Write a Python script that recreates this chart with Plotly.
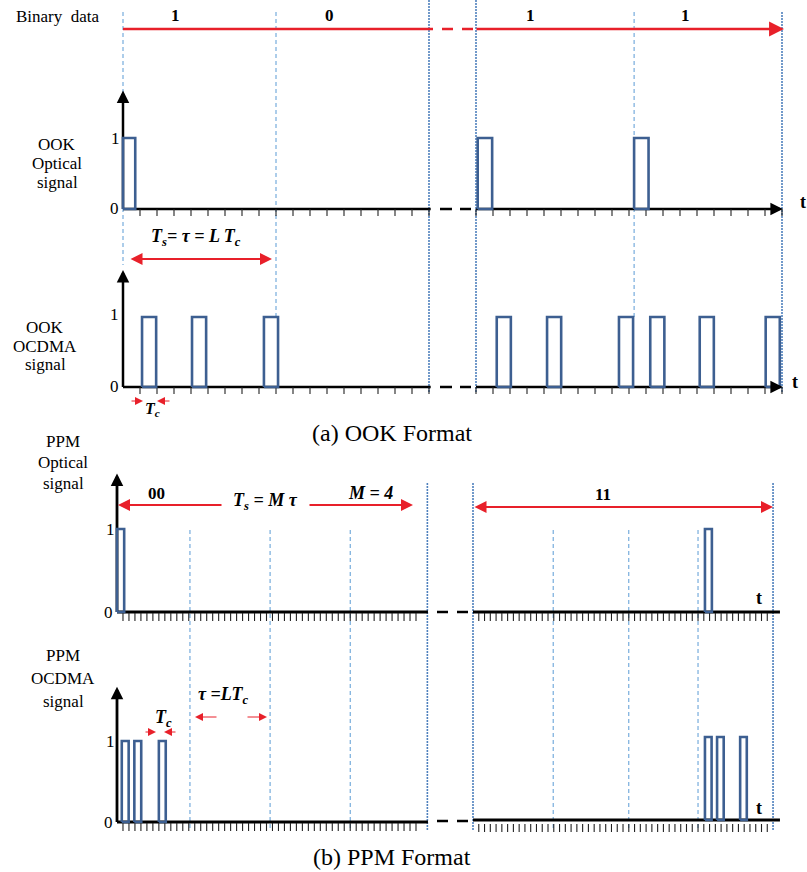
import plotly.graph_objects as go

W, H = 807, 872

# ---------------- data (chip units / signal levels) ----------------
BITS_OOK = ["1", "0", "1", "1"]
OOK_EDGES_LEFT = [0, 9, 18]              # bit boundaries (chips), L = 9
OOK_EDGES_RIGHT = [0, 9.3, 18]
OOK_TICKS_LEFT = list(range(1, 19))
OOK_TICKS_RIGHT = list(range(0, 19))
OOK_OPT_LEFT = [0.0]
OOK_OPT_LEFT_W = 0.72
OOK_OPT_RIGHT = [0.1, 9.3]
OOK_OPT_RIGHT_W = 0.85
OOK_CDMA_LEFT = [1.12, 4.06, 8.29]
OOK_CDMA_RIGHT = [1.22, 4.18, 8.41, 10.25, 13.16, 17.04]
OOK_CDMA_W = 0.83

PPM_BITS = ["00", "11"]
PPM_SLOTS_LEFT = [12.2, 25.6, 39.0]      # slot boundaries (chips), M = 4
PPM_EDGE_LEFT = [51.9]
PPM_SLOTS_RIGHT = [13.9, 27.0, 39.0]
PPM_EDGES_RIGHT = [0, 52]
PPM_TICKS_LEFT = list(range(1, 51))
PPM_TICKS_RIGHT = list(range(1, 52))
PPM_OPT_LEFT = [0.0]
PPM_OPT_RIGHT = [40.2]
PPM_OPT_W = 1.2
PPM_CDMA_LEFT = [0.8, 2.9, 7.0]
PPM_CDMA_RIGHT = [40.2, 42.3, 46.3]
PPM_CDMA_W = 1.15
LEVEL_ONE = 1.0
AXIS_TOP = 1.67

# ---------------- style ----------------
SERIF = "Liberation Serif"
PULSE = "#3d5f91"
RED = "#e8202a"
BLUE = "#5b9bd5"
BLUE_DOT = "#4f81bd"

# panel geometry (pixels): x-domain, pixel of chip 0, px per chip, y-domain, baseline px, px per unit
PANELS = {
    "A": dict(xd=(100, 476), x0=123, sx=17.0, yd=(0, 232), y0=209, sy=71),
    "B": dict(xd=(437, 806), x0=476, sx=17.0, yd=(0, 232), y0=209, sy=71),
    "C": dict(xd=(100, 476), x0=123, sx=17.0, yd=(240, 420), y0=387, sy=70),
    "D": dict(xd=(437, 806), x0=476, sx=17.0, yd=(240, 420), y0=387, sy=70),
    "E": dict(xd=(100, 473), x0=117, sx=5.98, yd=(465, 640), y0=612, sy=83),
    "F": dict(xd=(432, 806), x0=473, sx=5.77, yd=(465, 640), y0=612, sy=83),
    "G": dict(xd=(100, 473), x0=117, sx=5.98, yd=(670, 845), y0=822, sy=81),
    "H": dict(xd=(432, 806), x0=473, sx=5.77, yd=(670, 845), y0=820, sy=83),
}

layout = dict(width=W, height=H, margin=dict(l=0, r=0, t=0, b=0),
              paper_bgcolor="white", plot_bgcolor="rgba(0,0,0,0)",
              showlegend=False, font=dict(family=SERIF))
AX = {}
for i, (k, p) in enumerate(PANELS.items(), start=1):
    s = "" if i == 1 else str(i)
    xr = [(p["xd"][0] - p["x0"]) / p["sx"], (p["xd"][1] - p["x0"]) / p["sx"]]
    yr = [(p["y0"] - p["yd"][1]) / p["sy"], (p["y0"] - p["yd"][0]) / p["sy"]]
    layout["xaxis" + s] = dict(domain=[p["xd"][0] / W, p["xd"][1] / W], range=xr,
                               visible=False, fixedrange=True, anchor="y" + s)
    layout["yaxis" + s] = dict(domain=[1 - p["yd"][1] / H, 1 - p["yd"][0] / H], range=yr,
                               visible=False, fixedrange=True, anchor="x" + s)
    AX[k] = ("x" + s, "y" + s)

fig = go.Figure(layout=layout)
annotations = []
shapes = []


def px(x):
    return x / W


def py(y):
    return 1 - y / H


def line_trace(panel, xs, ys, color="black", width=2.5):
    xa, ya = AX[panel]
    fig.add_trace(go.Scatter(x=xs, y=ys, mode="lines", xaxis=xa, yaxis=ya,
                             line=dict(color=color, width=width), hoverinfo="skip"))


def pulses(panel, starts, w):
    xs, ys = [], []
    for s0 in starts:
        xs += [s0, s0, s0 + w, s0 + w, s0, None]
        ys += [0, LEVEL_ONE, LEVEL_ONE, 0, 0, None]
    line_trace(panel, xs, ys, color=PULSE, width=2.6)


def ticks(panel, tks, top_px, bot_px):
    p = PANELS[panel]
    t0, t1 = -top_px / p["sy"], -bot_px / p["sy"]
    xs, ys = [], []
    for t in tks:
        xs += [t, t, None]
        ys += [t0, t1, None]
    line_trace(panel, xs, ys, color="#222", width=1.1)


def vline(panel, x, y_top, y_bot, dotted=False):
    xa, _ = AX[panel]
    shapes.append(dict(type="line", xref=xa, yref="paper", x0=x, x1=x,
                       y0=py(y_top), y1=py(y_bot), layer="below",
                       line=dict(color=BLUE_DOT if dotted else BLUE,
                                 width=1.6 if dotted else 1,
                                 dash="2px,1px" if dotted else "4px,3px")))


def text(x, y, t, size=17, bold=False, italic=False, xanchor="center", color="black"):
    if italic:
        t = "<i>" + t + "</i>"
    if bold:
        t = "<b>" + t + "</b>"
    annotations.append(dict(x=px(x), y=py(y), xref="paper", yref="paper", text=t,
                            showarrow=False, xanchor=xanchor, yanchor="middle",
                            font=dict(family=SERIF, size=size, color=color)))


def arrow(x0, y0, x1, y1, color=RED, width=2, size=1.2, both=False):
    d = dict(x=px(x1), y=py(y1), xref="paper", yref="paper", text="",
             showarrow=True, ax=x0 - x1, ay=y0 - y1, axref="pixel", ayref="pixel",
             arrowhead=2, arrowsize=size, arrowwidth=width, arrowcolor=color,
             standoff=0, startstandoff=0)
    if both:
        d.update(arrowside="end+start", startarrowhead=2, startarrowsize=size)
    annotations.append(d)


def axis_head(panel, x, y, ax, ay, width=2.5, size=1.0):
    xa, ya = AX[panel]
    annotations.append(dict(x=x, y=y, xref=xa, yref=ya, text="", showarrow=True,
                            ax=ax, ay=ay, axref="pixel", ayref="pixel",
                            arrowhead=2, arrowsize=size, arrowwidth=width,
                            arrowcolor="black", standoff=0))


def hseg(x0, x1, y, color, width, dash=None):
    ln = dict(color=color, width=width)
    if dash:
        ln["dash"] = dash
    shapes.append(dict(type="line", xref="paper", yref="paper", x0=px(x0), x1=px(x1),
                       y0=py(y), y1=py(y), line=ln))


# ================= OOK =================
vline("A", OOK_EDGES_LEFT[0], 12, 265)
vline("A", OOK_EDGES_LEFT[1], 12, 318)
vline("A", OOK_EDGES_LEFT[2], 0, 393, dotted=True)
vline("B", OOK_EDGES_RIGHT[0], 0, 393, dotted=True)
vline("B", OOK_EDGES_RIGHT[1], 12, 318)
vline("B", OOK_EDGES_RIGHT[2], 12, 393, dotted=True)

for lp, rp in (("A", "B"), ("C", "D")):
    line_trace(lp, [0, 0], [0, AXIS_TOP - 0.05], width=2.5)
    axis_head(lp, 0, AXIS_TOP, 0, 9)
    line_trace(lp, [0, OOK_EDGES_LEFT[-1] + 0.1], [0, 0], width=2.5)
    ticks(lp, OOK_TICKS_LEFT, 0, 7)
    line_trace(rp, [0, OOK_EDGES_RIGHT[-1] - 0.2], [0, 0], width=2.5)
    axis_head(rp, OOK_EDGES_RIGHT[-1] + 0.05, 0, -10, 0)
    ticks(rp, OOK_TICKS_RIGHT, 0, 7)

pulses("A", OOK_OPT_LEFT, OOK_OPT_LEFT_W)
pulses("B", OOK_OPT_RIGHT, OOK_OPT_RIGHT_W)
pulses("C", OOK_CDMA_LEFT, OOK_CDMA_W)
pulses("D", OOK_CDMA_RIGHT, OOK_CDMA_W)

for yb in (209, 387):
    hseg(440, 471, yb, "black", 2.5, "12px,8px")

hseg(123, 433, 29, RED, 2.5)
hseg(442, 473, 29, RED, 2.5, "11px,9px")
arrow(475, 29, 784, 29, width=2.3, size=1.3)

text(58, 17, "Binary  data", size=17)
text(175, 15, BITS_OOK[0], size=17, bold=True)
text(329, 15, BITS_OOK[1], size=17, bold=True)
text(530, 15, BITS_OOK[2], size=17, bold=True)
text(685, 15, BITS_OOK[3], size=17, bold=True)

for y, t in ((144, "OOK"), (163, "Optical"), (182, "signal")):
    text(57, y, t, size=17)
for y, t in ((327, "OOK"), (346, "OCDMA"), (364, "signal")):
    text(45, y, t, size=17)

text(122, 138, "1", size=17, xanchor="right")
text(121, 209, "0", size=17, xanchor="right")
text(121, 314, "1", size=17, xanchor="right")
text(121, 387, "0", size=17, xanchor="right")
text(803, 202, "t", size=18, bold=True)
text(795, 382, "t", size=18, bold=True)

text(196, 237, "T<sub>s</sub>= τ = L T<sub>c</sub>", size=18, bold=True, italic=True)
arrow(129, 259, 272, 259, width=2, size=1.2, both=True)
arrow(130, 401, 143, 401, width=1, size=1.6)
arrow(171, 401, 157, 401, width=1, size=1.6)
text(152, 409, "T<sub>c</sub>", size=16, bold=True, italic=True)

text(392, 433, "(a) OOK Format", size=24)

# ================= PPM =================
for sl in PPM_SLOTS_LEFT:
    vline("E", sl, 530, 830)
vline("E", PPM_EDGE_LEFT[0], 483, 830, dotted=True)
for sl in PPM_SLOTS_RIGHT:
    vline("F", sl, 530, 830)
for e in PPM_EDGES_RIGHT:
    vline("F", e, 483, 830, dotted=True)

for lp, rp in (("E", "F"), ("G", "H")):
    line_trace(lp, [0, 0], [0, AXIS_TOP - 0.05], width=2.8)
    axis_head(lp, 0, AXIS_TOP, 0, 9)
    line_trace(lp, [0, 52], [0, 0], width=2.8)
    ticks(lp, PPM_TICKS_LEFT, 1, 9)
    line_trace(rp, [0, 53.2], [0, 0], width=2.8)
ticks("F", PPM_TICKS_RIGHT, 1, 9)
ticks("H", PPM_TICKS_RIGHT, 4, 12)

pulses("E", PPM_OPT_LEFT, PPM_OPT_W)
pulses("F", PPM_OPT_RIGHT, PPM_OPT_W)
pulses("G", PPM_CDMA_LEFT, PPM_CDMA_W)
pulses("H", PPM_CDMA_RIGHT, PPM_CDMA_W)

for yb in (612, 821):
    hseg(437, 468, yb, "black", 2.5, "11px,9px")

for y, t in ((441, "PPM"), (462, "Optical"), (483, "signal")):
    text(63, y, t, size=17)
for y, t in ((655, "PPM"), (678, "OCDMA"), (701, "signal")):
    text(63, y, t, size=17)

text(117, 529, "1", size=17, xanchor="right")
text(115, 612, "0", size=17, xanchor="right")
text(117, 741, "1", size=17, xanchor="right")
text(115, 822, "0", size=17, xanchor="right")
text(759, 598, "t", size=18, bold=True)
text(759, 808, "t", size=18, bold=True)

arrow(223, 505, 118, 505, width=2, size=1.2)
arrow(308, 505, 413, 505, width=2, size=1.2)
text(156, 493, PPM_BITS[0], size=17, bold=True)
text(265, 501, "T<sub>s</sub> = M τ", size=18, bold=True, italic=True)
text(370, 493, "M = 4", size=18, bold=True, italic=True)
arrow(473, 507, 773, 507, width=2, size=1.2, both=True)
text(603, 495, PPM_BITS[1], size=17, bold=True)

arrow(144, 732, 156, 732, width=1, size=1.6)
arrow(177, 732, 164, 732, width=1, size=1.6)
text(163, 718, "T<sub>c</sub>", size=18, bold=True, italic=True)
text(223, 695, "τ =LT<sub>c</sub>", size=18, bold=True, italic=True)
arrow(218, 717, 195, 717, width=1, size=1.6)
arrow(246, 717, 267, 717, width=1, size=1.6)

text(392, 857, "(b) PPM Format", size=24)

fig.update_layout(annotations=annotations, shapes=shapes)
fig.write_html("out.html")
